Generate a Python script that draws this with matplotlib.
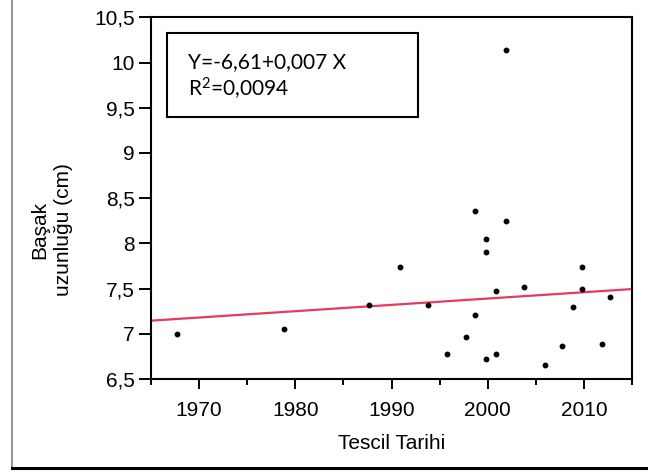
import matplotlib
matplotlib.use("Agg")
import matplotlib.pyplot as plt
from matplotlib.lines import Line2D
from matplotlib.patches import Rectangle
import numpy as np

# data
years = [1967.7, 1978.8, 1987.7, 1990.9, 1993.8, 1995.8, 1997.7, 1998.7,
         1998.7, 1999.8, 1999.8, 1999.8, 2000.85, 2000.85, 2001.9, 2001.9,
         2003.8, 2005.9, 2007.7, 2008.8, 2009.8, 2009.8, 2011.9, 2012.7]
lengths = [7.00, 7.05, 7.32, 7.74, 7.32, 6.78, 6.96, 8.36,
           7.21, 8.05, 7.90, 6.72, 7.47, 6.78, 10.14, 8.25,
           7.52, 6.65, 6.87, 7.30, 7.74, 7.50, 6.89, 7.41]
intercept = -6.61
slope = 0.007
eq_text = "Y=-6,61+0,007 X"
r2_text = "R$^{2}$=0,0094"
x_ticks = [1970, 1980, 1990, 2000, 2010]
y_ticks = [6.5, 7, 7.5, 8, 8.5, 9, 9.5, 10, 10.5]
y_tick_labels = ["6,5", "7", "7,5", "8", "8,5", "9", "9,5", "10", "10,5"]

plt.rcParams["font.family"] = ["Liberation Sans", "DejaVu Sans"]
plt.rcParams["mathtext.fontset"] = "custom"
plt.rcParams["mathtext.rm"] = "Lato"
plt.rcParams["mathtext.default"] = "rm"

fig = plt.figure(figsize=(6.48, 4.72), dpi=100)
ax = fig.add_axes([0.2326, 0.197, 0.7432, 0.7663])

# regression line and points
xs = np.array([1965, 2015])
ax.plot(xs, intercept + slope * xs, color="#e83a5c", lw=1.6, zorder=2)
ax.plot(years, lengths, "o", color="black", markersize=3.2, zorder=3)

ax.set_xlim(1965, 2015)
ax.set_ylim(6.5, 10.5)
ax.set_xticks(x_ticks)
ax.set_xticks(np.arange(1965, 2016, 5), minor=True)
ax.set_yticks(y_ticks)
ax.set_yticklabels(y_tick_labels)
ax.tick_params(axis="x", which="major", direction="out", length=7.2, width=1.4,
               labelsize=15, pad=8.5)
ax.tick_params(axis="x", which="minor", direction="out", length=4.3, width=1.4)
ax.tick_params(axis="y", which="major", direction="out", length=8.6, width=1.4,
               labelsize=15, pad=3)
for sp in ax.spines.values():
    sp.set_linewidth(1.5)

ax.set_xlabel("Tescil Tarihi", fontsize=15, labelpad=10)
fig.text(51.5 / 648, 1 - 230 / 472, "Başak\nuzunluğu (cm)", rotation=90,
         ha="center", va="center", multialignment="center", fontsize=15,
         linespacing=1.35)

# equation box
ax.add_patch(Rectangle((0.0332, 0.7235), 0.5212, 0.2323, transform=ax.transAxes,
                       fill=True, facecolor="white", edgecolor="black", lw=1.5,
                       zorder=4))
ax.text(0.0775, 0.860, eq_text, transform=ax.transAxes, fontsize=15,
        family=["Lato", "DejaVu Sans"], va="baseline", zorder=5)
ax.text(0.0775, 0.7797, r2_text, transform=ax.transAxes, fontsize=15,
        family=["Lato", "DejaVu Sans"], va="baseline", zorder=5)

# outer frame pieces
fig.add_artist(Line2D([12.3 / 648, 12.3 / 648], [0.008, 1.0], color="#808080", lw=1.2))
fig.add_artist(Line2D([12.3 / 648, 1.0], [0.008, 0.008], color="black", lw=2.2))

fig.savefig("out.png", dpi=100)
